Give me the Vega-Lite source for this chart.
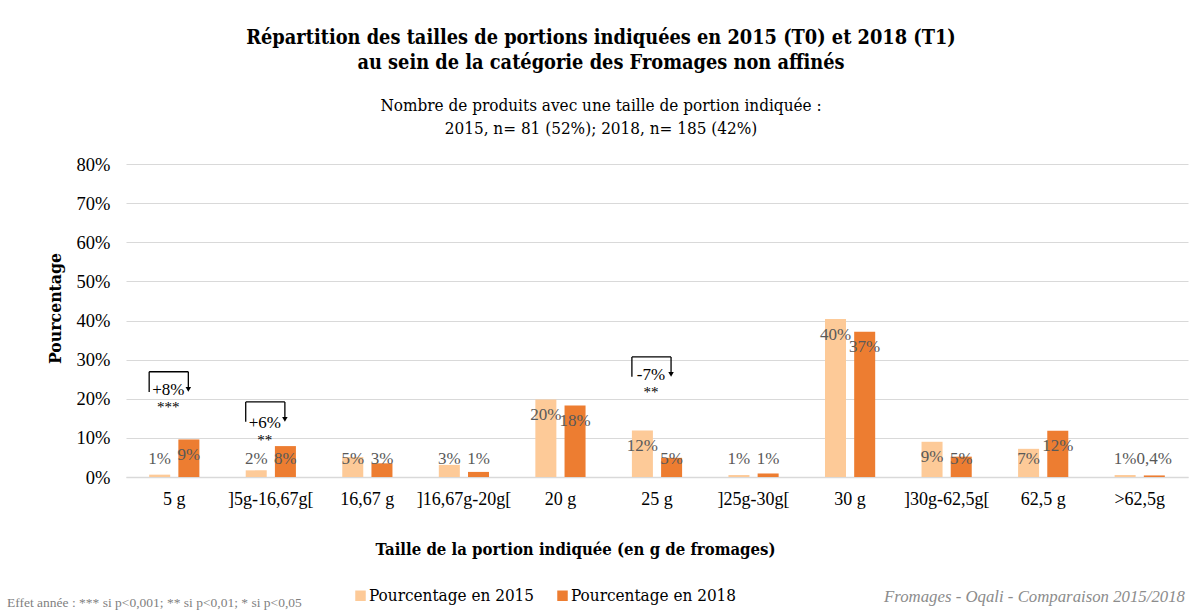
{
  "$schema": "https://vega.github.io/schema/vega-lite/v6.json",
  "width": 1062,
  "height": 313,
  "autosize": {"type": "none"},
  "padding": {"left": 126, "top": 164, "right": 7, "bottom": 133},
  "background": "white",
  "title": {
    "text": ["Répartition des tailles de portions indiquées en 2015 (T0) et 2018 (T1)", "au sein de la catégorie des Fromages non affinés"],
    "subtitle": ["Nombre de produits avec une taille de portion indiquée :", "2015, n= 81 (52%);  2018, n= 185 (42%)"],
    "anchor": "middle",
    "frame": "group",
    "dx": -56,
    "offset": 18,
    "font": "DejaVu Serif Condensed",
    "fontSize": 19.8,
    "fontWeight": "bold",
    "color": "#000000",
    "lineHeight": 25,
    "subtitleFont": "DejaVu Serif Condensed",
    "subtitleFontSize": 17,
    "subtitleColor": "#000000",
    "subtitleLineHeight": 23,
    "subtitlePadding": 25
  },
  "datasets": {
    "bars": [
      {"cat": "5 g", "year": "2015", "value": 0.6, "label": "1%"},
      {"cat": "5 g", "year": "2018", "value": 9.6, "label": "9%"},
      {"cat": "]5g-16,67g[", "year": "2015", "value": 1.7, "label": "2%"},
      {"cat": "]5g-16,67g[", "year": "2018", "value": 7.9, "label": "8%"},
      {"cat": "16,67 g", "year": "2015", "value": 5.1, "label": "5%"},
      {"cat": "16,67 g", "year": "2018", "value": 3.5, "label": "3%"},
      {"cat": "]16,67g-20g[", "year": "2015", "value": 3.1, "label": "3%"},
      {"cat": "]16,67g-20g[", "year": "2018", "value": 1.3, "label": "1%"},
      {"cat": "20 g", "year": "2015", "value": 19.8, "label": "20%"},
      {"cat": "20 g", "year": "2018", "value": 18.3, "label": "18%"},
      {"cat": "25 g", "year": "2015", "value": 11.9, "label": "12%"},
      {"cat": "25 g", "year": "2018", "value": 4.9, "label": "5%"},
      {"cat": "]25g-30g[", "year": "2015", "value": 0.5, "label": "1%"},
      {"cat": "]25g-30g[", "year": "2018", "value": 0.9, "label": "1%"},
      {"cat": "30 g", "year": "2015", "value": 40.4, "label": "40%"},
      {"cat": "30 g", "year": "2018", "value": 37.1, "label": "37%"},
      {"cat": "]30g-62,5g[", "year": "2015", "value": 9.0, "label": "9%"},
      {"cat": "]30g-62,5g[", "year": "2018", "value": 5.2, "label": "5%"},
      {"cat": "62,5 g", "year": "2015", "value": 7.2, "label": "7%"},
      {"cat": "62,5 g", "year": "2018", "value": 11.8, "label": "12%"},
      {"cat": ">62,5g", "year": "2015", "value": 0.5, "label": "1%"},
      {"cat": ">62,5g", "year": "2018", "value": 0.4, "label": "0,4%"}
    ],
    "brackets": [
      {"cat": "5 g", "yl": 21.7, "ytop": 26.9, "yr": 22.8, "ya": 22.4, "diff": "+8%", "dy": 22.3, "stars": "***", "sy": 17.9},
      {"cat": "]5g-16,67g[", "yl": 14.1, "ytop": 19.2, "yr": 15.1, "ya": 14.7, "diff": "+6%", "dy": 13.8, "stars": "**", "sy": 9.5},
      {"cat": "25 g", "yl": 25.6, "ytop": 30.7, "yr": 26.6, "ya": 26.2, "diff": "-7%", "dy": 26.1, "stars": "**", "sy": 21.7}
    ]
  },
  "encoding": {
    "x": {
      "field": "cat", "type": "nominal", "sort": null,
      "scale": {"domain": ["5 g", "]5g-16,67g[", "16,67 g", "]16,67g-20g[", "20 g", "25 g", "]25g-30g[", "30 g", "]30g-62,5g[", "62,5 g", ">62,5g"], "paddingInner": 0.48, "paddingOuter": 0.24},
      "axis": {
        "title": "Taille de la portion indiquée (en g de fromages)",
        "titleX": 449, "titleY": 72, "titleAlign": "center", "titleBaseline": "middle",
        "titleFont": "DejaVu Serif Condensed", "titleFontSize": 16.6, "titleFontWeight": "bold", "titleColor": "#000000",
        "labelAngle": 0, "labelFont": "Liberation Serif", "labelFontSize": 18, "labelColor": "#000000",
        "labelPadding": 13, "ticks": false, "domainColor": "#D9D9D9", "domainWidth": 1.5, "grid": false
      }
    }
  },
  "layer": [
    {
      "data": {"name": "bars"},
      "mark": {"type": "bar"},
      "encoding": {
        "xOffset": {"field": "year", "type": "nominal", "scale": {"domain": ["2015", "2018"], "paddingInner": 0.28}},
        "y": {
          "field": "value", "type": "quantitative",
          "scale": {"domain": [0, 80], "nice": false},
          "axis": {
            "title": "Pourcentage", "titleX": -71, "titleY": 144, "titleAlign": "center", "titleBaseline": "middle", "titleAngle": -90,
            "titleFont": "DejaVu Serif Condensed", "titleFontSize": 17.5, "titleFontWeight": "bold", "titleColor": "#000000",
            "values": [0, 10, 20, 30, 40, 50, 60, 70, 80], "tickCount": 9, "labelOverlap": false,
            "labelExpr": "datum.value + '%'",
            "labelFont": "Liberation Serif", "labelFontSize": 18.5, "labelColor": "#000000", "labelPadding": 16,
            "ticks": false, "domain": false, "grid": true, "gridColor": "#D9D9D9", "gridWidth": 1
          }
        },
        "color": {
          "field": "year", "type": "nominal",
          "scale": {"domain": ["2015", "2018"], "range": ["#FDCA98", "#ED7D31"]},
          "legend": {
            "orient": "none", "legendX": 226, "legendY": 423, "direction": "horizontal", "title": null,
            "labelExpr": "'Pourcentage en ' + datum.label",
            "symbolType": "square", "symbolSize": 110, "symbolStrokeWidth": 0,
            "labelFont": "DejaVu Serif Condensed", "labelFontSize": 17, "labelColor": "#000000", "labelLimit": 400,
            "labelOffset": 0, "columnPadding": 19
          }
        }
      }
    },
    {
      "data": {"name": "bars"},
      "transform": [{"calculate": "max(datum.value - 4, 4.5)", "as": "value"}],
      "mark": {"type": "text", "font": "Liberation Serif", "fontSize": 17, "color": "#595959", "baseline": "middle", "align": "center"},
      "encoding": {
        "xOffset": {"field": "year", "type": "nominal"},
        "y": {"field": "value", "type": "quantitative"},
        "text": {"field": "label"}
      }
    },
    {
      "data": {"name": "brackets"},
      "mark": {"type": "rule", "color": "#000000", "strokeWidth": 1.3},
      "encoding": {
        "x": {"field": "cat", "type": "nominal", "sort": null, "bandPosition": 0},
        "y": {"field": "yl", "type": "quantitative"},
        "y2": {"field": "ytop"}
      }
    },
    {
      "data": {"name": "brackets"},
      "mark": {"type": "rule", "color": "#000000", "strokeWidth": 1.3},
      "encoding": {
        "x": {"field": "cat", "type": "nominal", "sort": null, "bandPosition": 0.78},
        "y": {"field": "yr", "type": "quantitative"},
        "y2": {"field": "ytop"}
      }
    },
    {
      "data": {"name": "brackets"},
      "mark": {"type": "rule", "color": "#000000", "strokeWidth": 1.3},
      "encoding": {
        "x": {"field": "cat", "type": "nominal", "sort": null, "bandPosition": 0},
        "x2": {"field": "cat", "bandPosition": 0.78},
        "y": {"field": "ytop", "type": "quantitative"}
      }
    },
    {
      "data": {"name": "brackets"},
      "mark": {"type": "point", "shape": "triangle-down", "filled": true, "color": "#000000", "size": 30, "opacity": 1},
      "encoding": {
        "x": {"field": "cat", "type": "nominal", "sort": null, "bandPosition": 0.78},
        "y": {"field": "ya", "type": "quantitative"}
      }
    },
    {
      "data": {"name": "brackets"},
      "mark": {"type": "text", "font": "Liberation Serif", "fontSize": 17, "color": "#000000", "baseline": "middle", "dx": -6},
      "encoding": {
        "y": {"field": "dy", "type": "quantitative"},
        "text": {"field": "diff"}
      }
    },
    {
      "data": {"name": "brackets"},
      "mark": {"type": "text", "font": "Liberation Serif", "fontSize": 15, "color": "#000000", "baseline": "middle", "dx": -6},
      "encoding": {
        "y": {"field": "sy", "type": "quantitative"},
        "text": {"field": "stars"}
      }
    },
    {
      "data": {"values": [{"t": "Effet année : *** si p<0,001; ** si p<0,01; * si p<0,05"}]},
      "mark": {"type": "text", "font": "Liberation Sans Narrow", "fontSize": 13.5, "color": "#7F7F7F", "align": "left", "baseline": "middle"},
      "encoding": {"x": {"value": -119}, "y": {"value": 439}, "text": {"field": "t"}}
    },
    {
      "data": {"values": [{"t": "Fromages - Oqali - Comparaison 2015/2018"}]},
      "mark": {"type": "text", "font": "Liberation Sans Narrow", "fontSize": 16.8, "fontStyle": "italic", "color": "#8C8C8C", "align": "right", "baseline": "middle"},
      "encoding": {"x": {"value": 1059}, "y": {"value": 433}, "text": {"field": "t"}}
    }
  ],
  "config": {"view": {"stroke": null}}
}
